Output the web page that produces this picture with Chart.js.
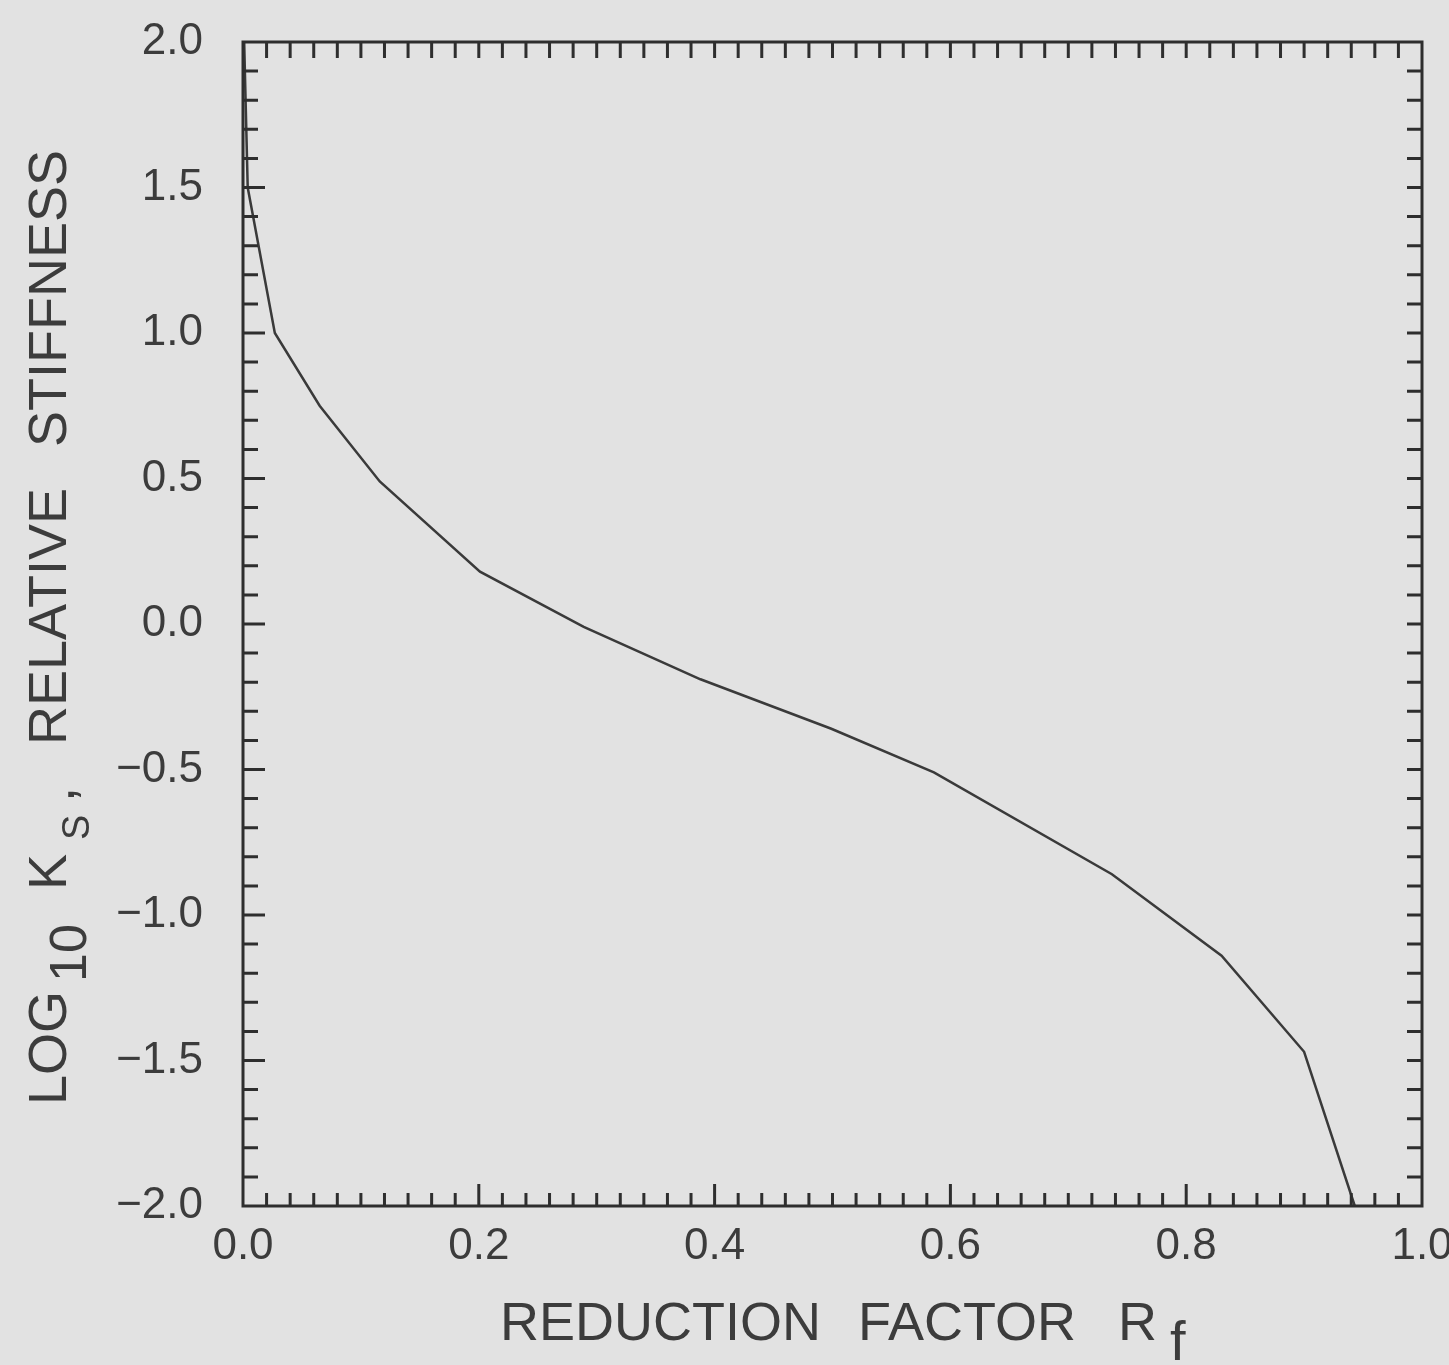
<!DOCTYPE html>
<html>
<head>
<meta charset="utf-8">
<script src="https://cdn.jsdelivr.net/npm/chart.js@4/dist/chart.umd.min.js"></script>
<style>
  html, body { margin: 0; padding: 0; background: #e2e2e2; }
  #wrap { width: 1449px; height: 1365px; position: relative; }
</style>
</head>
<body>
<div id="wrap"><canvas id="chart"></canvas></div>
<script>
// values
const rfValues = [0.001, 0.004, 0.027, 0.065, 0.116, 0.201, 0.289, 0.388, 0.499, 0.586, 0.737, 0.830, 0.900, 0.943];
const logKsValues = [2.00, 1.50, 1.00, 0.75, 0.49, 0.18, -0.01, -0.19, -0.36, -0.51, -0.86, -1.14, -1.47, -2.00];

const xRange = [0, 1];
const yRange = [-2, 2];
const xLabelStep = 0.2;
const yLabelStep = 0.5;
const xMinorStep = 0.02;
const yMinorStep = 0.1;

const ink = '#2e2e2e';
const textInk = '#3c3c3c';
const fontName = '"Liberation Sans", Arial, sans-serif';

function fmt(v) {
  const s = Math.abs(v).toFixed(1);
  return (v < -1e-9 ? '\u2212' : '') + s;
}

// inward ticks on all four sides + frame
const frameTicks = {
  id: 'frameTicks',
  afterDraw(chart) {
    const { ctx, chartArea: a, scales } = chart;
    const xs = scales.x, ys = scales.y;
    ctx.save();
    ctx.strokeStyle = ink;
    ctx.lineWidth = 3;
    ctx.beginPath();
    const nx = Math.round((xRange[1] - xRange[0]) / xMinorStep);
    for (let i = 1; i < nx; i++) {
      const v = xRange[0] + i * xMinorStep;
      const px = xs.getPixelForValue(v);
      const len = i % 10 === 0 ? 22 : 13;
      ctx.moveTo(px, a.bottom); ctx.lineTo(px, a.bottom - len);
      ctx.moveTo(px, a.top); ctx.lineTo(px, a.top + 16);
    }
    const ny = Math.round((yRange[1] - yRange[0]) / yMinorStep);
    for (let i = 1; i < ny; i++) {
      const v = yRange[0] + i * yMinorStep;
      const py = ys.getPixelForValue(v);
      const len = i % 5 === 0 ? 22 : 15;
      ctx.moveTo(a.left, py); ctx.lineTo(a.left + len, py);
      ctx.moveTo(a.right, py); ctx.lineTo(a.right - 15, py);
    }
    ctx.stroke();
    ctx.strokeRect(a.left, a.top, a.right - a.left, a.bottom - a.top);
    ctx.restore();
  }
};

// axis titles with lowered subscripts
const axisTitles = {
  id: 'axisTitles',
  afterDraw(chart) {
    const ctx = chart.ctx;
    ctx.save();
    ctx.fillStyle = textInk;
    ctx.textBaseline = 'alphabetic';
    ctx.textAlign = 'left';

    // y title, reading upward; baseline at screen x = 66
    ctx.save();
    ctx.translate(66, 0);
    ctx.rotate(-Math.PI / 2);
    const ySegs = [
      { t: 'LOG', y: 1105, dv: 0, size: 54 },
      { t: '10', y: 982, dv: 20, size: 52 },
      { t: 'K', y: 890, dv: 0, size: 54 },
      { t: 'S', y: 840, dv: 23, size: 38 },
      { t: ',', y: 802, dv: 8, size: 54 },
      { t: 'RELATIVE', y: 745, dv: 0, size: 54 },
      { t: 'STIFFNESS', y: 447, dv: 0, size: 54 }
    ];
    ySegs.forEach(s => {
      ctx.font = s.size + 'px ' + fontName;
      ctx.fillText(s.t, -s.y, s.dv);
    });
    ctx.restore();

    // x title
    const xSegs = [
      { t: 'REDUCTION', x: 500, y: 1340, size: 54 },
      { t: 'FACTOR', x: 858, y: 1340, size: 54 },
      { t: 'R', x: 1118, y: 1340, size: 54 },
      { t: 'f', x: 1170, y: 1360, size: 56 }
    ];
    xSegs.forEach(s => {
      ctx.font = s.size + 'px ' + fontName;
      ctx.fillText(s.t, s.x, s.y);
    });
    ctx.restore();
  }
};

const points = rfValues.map((x, i) => ({ x: x, y: logKsValues[i] }));

new Chart(document.getElementById('chart'), {
  type: 'scatter',
  data: {
    datasets: [{
      data: points,
      showLine: true,
      borderColor: '#3a3a3a',
      borderWidth: 2.5,
      pointRadius: 0,
      tension: 0,
      clip: false
    }]
  },
  options: {
    responsive: true,
    maintainAspectRatio: false,
    animation: false,
    layout: { padding: { top: 42, right: 27, left: 0, bottom: 0 } },
    plugins: { legend: { display: false }, tooltip: { enabled: false } },
    scales: {
      x: {
        type: 'linear',
        min: xRange[0], max: xRange[1],
        grid: { display: false },
        border: { display: false },
        ticks: {
          stepSize: xLabelStep,
          padding: 6,
          color: textInk,
          font: { family: fontName, size: 44 },
          maxRotation: 0,
          autoSkip: false,
          callback: v => fmt(v)
        },
        afterFit(scale) {
          scale.height = 159;
          scale.paddingLeft = 0;
          scale.paddingRight = 0;
        }
      },
      y: {
        type: 'linear',
        min: yRange[0], max: yRange[1],
        grid: { display: false },
        border: { display: false },
        ticks: {
          stepSize: yLabelStep,
          padding: 32,
          color: textInk,
          font: { family: fontName, size: 44 },
          autoSkip: false,
          callback: v => fmt(v)
        },
        afterFit(scale) {
          scale.width = 243;
          scale.paddingTop = 0;
          scale.paddingBottom = 0;
        }
      }
    }
  },
  plugins: [frameTicks, axisTitles]
});
</script>
</body>
</html>
